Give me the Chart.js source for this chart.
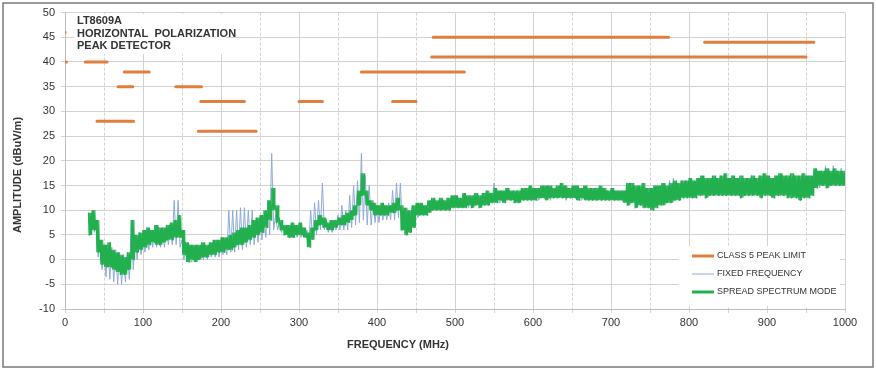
<!DOCTYPE html>
<html>
<head>
<meta charset="utf-8">
<script src="https://cdn.jsdelivr.net/npm/chart.js@4.4.0/dist/chart.umd.min.js"></script>
<style>
    body { margin: 0; background: #fff; }
</style>
</head>
<body>
<canvas id="emiChart" width="876" height="370"></canvas>
<script>
// CLASS 5 peak limit segments (MHz start, MHz end, dBuV/m)
const limitStart = [0.15, 0.53, 26, 41, 68, 76, 142, 171, 174, 300, 380, 420, 470, 472, 820];
const limitEnd   = [0.3, 1.8, 54, 88, 87, 108, 175, 245, 230, 330, 512, 450, 950, 774, 960];
const limitLevel = [46, 40, 40, 28, 35, 38, 35, 26, 32, 32, 38, 32, 41, 45, 44];

// measured traces, one hi/lo pair per 5 MHz bin starting at 30 MHz
const greenHi = [
    9.5, 10, 8, 4, 3, 3.5, 2, 1.5, 1, 0.5,            // 30-75
    1.5, 8, 5, 5.5, 6, 6.5, 6, 7, 6.5, 6.5,           // 80-125
    7, 7.5, 8, 9, 6, 3.5, 3, 3, 3, 3.5,               // 130-175
    3, 3.5, 4, 4, 4.5, 4.5, 5, 5.5, 6, 6.5,           // 180-225
    6.5, 7, 8, 8.5, 9, 10, 12, 14.5, 11, 8,           // 230-275
    7, 7, 7.5, 7, 7.5, 6.5, 5.5, 6.5, 8, 9,           // 280-325
    8.5, 7.5, 8, 8, 8.5, 9, 9.5, 10, 11, 14,          // 330-375
    17.5, 14, 12, 11.5, 11, 11.5, 11, 11, 11.5, 12.5, // 380-425
    11, 10.5, 10, 11, 11.5, 11.5, 11, 12, 12.5, 12,   // 430-475
    12.5, 12, 12.5, 13, 13, 12.5, 13.5, 13, 13, 13.5, // 480-525
    13, 13.5, 14, 13.5, 14.5, 14, 14, 14.5, 14, 14,   // 530-575
    14, 14.5, 14.5, 15, 14.5, 14.5, 15, 15, 15, 14.5, // 580-625
    15, 15.5, 15, 14.5, 15, 15, 14.5, 15, 14.5, 14.5, // 630-675
    14.5, 15, 14.5, 14, 14.5, 14, 14, 14, 15.5, 15.5, // 680-725
    15, 15, 15.5, 14.5, 14.5, 15, 15, 15.5, 15, 15.5, // 730-775
    16, 15.5, 16, 16, 16.5, 16, 16.5, 17, 16.5, 16.5, // 780-825
    17, 16.5, 17, 17.5, 16.5, 17, 16.5, 17, 16.5, 16.5, // 830-875
    17, 16.5, 17, 17.5, 17, 16.5, 17, 17.5, 17, 17,   // 880-925
    17.5, 17, 17, 17.5, 17, 17, 18.5, 18, 18, 18.5,   // 930-975
    18, 18.5, 18, 18, 18                              // 980-1000
];
const greenLo = [
    5, 6, 1.5, -1, -1.5, -1.5, -2, -2.5, -3, -3,
    -2, 0, 1.5, 2, 2.5, 3, 3.5, 3, 3, 3.5,
    4, 4, 4.5, 4.5, 1, -0.5, 0, -0.5, 0, 0.5,
    0.5, 1, 1, 1.5, 1.5, 2, 2, 2.5, 3, 3,
    3.5, 4, 4.5, 5, 5.5, 6.5, 8, 10, 7.5, 6,
    5, 4.5, 4.5, 5, 5, 4.5, 2.5, 4, 6, 7,
    6.5, 6, 6, 6.5, 7, 7, 7.5, 8, 9, 11,
    13, 11, 10, 9, 9, 9, 9, 9.5, 9.5, 10,
    6, 5, 5.5, 6.5, 9, 9, 9, 9.5, 10, 10,
    10, 10, 10, 10.5, 10.5, 10.5, 10.5, 11, 10.5, 11,
    10.5, 11, 11, 11.5, 11.5, 12, 11.5, 12, 12, 11.5,
    11.5, 12, 12, 12, 12, 12.5, 12.5, 12, 12.5, 12.5,
    12.5, 12.5, 12.5, 12.5, 12.5, 12, 12.5, 12, 12, 12,
    12, 12, 12, 12, 12, 12, 12, 11.5, 11, 11.5,
    10.5, 11, 10.5, 10.5, 10, 10.5, 11, 11, 11.5, 11.5,
    12, 12, 12.5, 12.5, 12.5, 12.5, 13, 13, 12.5, 13,
    13, 13, 13, 13, 13, 13, 13, 12.5, 13, 13,
    13, 13, 12.5, 13, 13, 12.5, 13, 13, 13, 12.5,
    12.5, 12.5, 12, 12.5, 12.5, 13, 14.5, 15, 15, 14.5,
    15, 15, 15, 15, 14.5
];
const blueHi = [
    9.5, 10, 7, 4, 3, 3, 2.5, 2, 1.5, 1,
    1.5, 8, 5, 5.5, 6, 6.5, 6, 7, 6.5, 6.5,
    6.5, 7, 12, 12, 4, 3, 3, 2.5, 3, 3,
    3, 3, 3.5, 4, 4, 4, 10, 10, 10, 10.5,
    10.5, 10, 10, 7.5, 8, 9, 12, 21.5, 9, 7.5,
    6.5, 6.5, 7, 7, 7, 6.5, 6, 10, 11.5, 12,
    15.5, 8, 7.5, 8, 9, 11, 10, 13, 15, 16,
    21.5, 17, 15, 12, 11, 11, 11, 11.5, 14, 15.5,
    15.5, 10.5, 10, 10.5, 11, 11, 11, 11.5, 12, 12,
    12, 12, 12.5, 12.5, 13, 12.5, 13, 13, 12.5, 13,
    13, 13, 13.5, 13.5, 15.5, 14, 14, 14, 14, 14,
    14, 14, 14.5, 14.5, 14.5, 14.5, 15, 14.5, 15, 14.5,
    15, 15, 15, 14.5, 14.5, 15, 14.5, 14.5, 14.5, 14.5,
    14.5, 14.5, 14.5, 14, 14, 14, 14, 14, 15, 15,
    15, 15, 15, 14.5, 14.5, 15, 15, 15, 15, 16,
    16.5, 15.5, 16, 16, 16, 16, 16.5, 16.5, 16.5, 16.5,
    16.5, 16.5, 17, 17, 16.5, 17, 16.5, 16.5, 16.5, 16.5,
    17, 16.5, 17, 17, 17, 16.5, 17, 17, 17, 17,
    17, 17, 17, 17, 17, 17, 18, 18, 18, 19,
    18, 19, 18, 18.5, 18
];
const blueLo = [
    5, 5.5, 0.5, -2, -3.5, -4, -4.5, -5, -5, -4.5,
    -4, -2, 0, 1, 1.5, 2, 2.5, 2.5, 2.5, 2.5,
    3, 3, 3, 2.5, 0, -0.5, -0.5, -0.5, 0, 0,
    0, 0.5, 0.5, 0.5, 1, 1, 1.5, 1.5, 2, 2,
    2.5, 3, 3, 3.5, 4, 4.5, 5, 6, 6, 5.5,
    5, 4.5, 4.5, 4.5, 4.5, 4.5, 3, 4, 5, 6,
    6, 5.5, 5.5, 6, 6, 6, 6, 6.5, 7, 7.5,
    8, 7, 7, 7.5, 7.5, 8, 8, 8, 8, 8.5,
    6, 5.5, 5.5, 6.5, 8.5, 9, 9, 9.5, 10, 10,
    10, 10, 10, 10.5, 10.5, 10.5, 10.5, 10.5, 10.5, 11,
    10.5, 11, 11, 11.5, 11.5, 11.5, 11.5, 12, 12, 11.5,
    11.5, 12, 12, 12, 12, 12, 12.5, 12, 12, 12.5,
    12.5, 12.5, 12, 12.5, 12.5, 12, 12, 12, 12, 12,
    12, 12, 12, 12, 12, 12, 12, 11.5, 11, 11.5,
    10.5, 11, 10.5, 10.5, 10.5, 10.5, 11, 11, 11.5, 11.5,
    12, 12, 12.5, 12.5, 12.5, 12.5, 13, 13, 12.5, 13,
    13, 13, 13, 13, 13, 13, 13, 12.5, 13, 13,
    13, 13, 12.5, 13, 13, 12.5, 13, 13, 13, 12.5,
    12.5, 12.5, 12, 12.5, 12.5, 13, 14.5, 14.5, 15, 14.5,
    15, 15, 15, 15, 14.5
];

const titleLines = ["LT8609A", "HORIZONTAL  POLARIZATION", "PEAK DETECTOR"];
const legendNames = ["CLASS 5 PEAK LIMIT", "FIXED FREQUENCY", "SPREAD SPECTRUM MODE"];

const FONT = "'Liberation Sans', Arial, sans-serif";
const ORANGE = "#E07E3C";
const BLUE = "#8EAADB";
const GREEN = "#22B04F";

// frequency bins for the traces
const freqs = [];
for (let f = 30; f <= 1000; f += 5) freqs.push(f);

// a sweep swings between the bin's peak and floor; "swings" = how many
// times it goes up and down inside one 5 MHz bin
function buildTrace(hi, lo, swings) {
    const pts = [];
    const step = 5 / (swings * 2);
    freqs.forEach((f, i) => {
        for (let k = 0; k < swings; k++) {
            pts.push({ x: f + step * 2 * k, y: hi[i] });
            pts.push({ x: f + step * (2 * k + 1), y: lo[i] });
        }
    });
    return pts;
}

function buildLimit() {
    const pts = [];
    limitLevel.forEach((lvl, i) => {
        pts.push({ x: limitStart[i], y: lvl });
        pts.push({ x: limitEnd[i], y: lvl });
        pts.push({ x: limitEnd[i], y: null }); // break between segments
    });
    return pts;
}

// white boxes, title text, custom legend, frame
const decorPlugin = {
    id: "decor",
    afterDraw(chart) {
        const ctx = chart.ctx;
        ctx.save();

        // outer frame
        ctx.strokeStyle = "#7a7a7a";
        ctx.lineWidth = 1.5;
        ctx.strokeRect(3, 3, 870, 364);

        // annotation text
        ctx.fillStyle = "#fff";
        ctx.fillRect(74, 14, 152, 40);
        ctx.fillStyle = "#333";
        ctx.font = "bold 11px " + FONT;
        ctx.textBaseline = "middle";
        ctx.textAlign = "left";
        titleLines.forEach((t, i) => ctx.fillText(t, 77, 21 + i * 12.5));

        // legend
        ctx.fillStyle = "#fff";
        ctx.fillRect(679, 246, 161, 60);
        const colors = [ORANGE, BLUE, GREEN];
        const widths = [3, 1, 3];
        ctx.font = "9px " + FONT;
        legendNames.forEach((name, i) => {
            const y = 256 + i * 18;
            ctx.strokeStyle = colors[i];
            ctx.lineWidth = widths[i];
            ctx.beginPath();
            ctx.moveTo(692, y);
            ctx.lineTo(714, y);
            ctx.stroke();
            ctx.fillStyle = "#333";
            ctx.fillText(name, 717, y);
        });

        // axis titles
        ctx.font = "bold 11px " + FONT;
        ctx.textAlign = "center";
        ctx.fillText("FREQUENCY (MHz)", 398, 345);
        ctx.translate(18, 175);
        ctx.rotate(-Math.PI / 2);
        ctx.fillText("AMPLITUDE (dBuV/m)", 0, 0);

        ctx.restore();
    }
};

const ctx = document.getElementById("emiChart").getContext("2d");
new Chart(ctx, {
    type: "line",
    data: {
        datasets: [
            {
                label: legendNames[0],
                data: buildLimit(),
                borderColor: ORANGE,
                borderWidth: 3,
                borderCapStyle: "round",
                spanGaps: false
            },
            {
                label: legendNames[2],
                data: buildTrace(greenHi, greenLo, 3),
                borderColor: GREEN,
                borderWidth: 1.1
            },
            {
                label: legendNames[1],
                data: buildTrace(blueHi, blueLo, 1),
                borderColor: BLUE,
                borderWidth: 1
            }
        ]
    },
    options: {
        responsive: false,
        animation: false,
        events: [],
        parsing: false,
        elements: {
            point: { radius: 0 },
            line: { tension: 0 }
        },
        layout: { padding: { top: 12, right: 31, bottom: 0, left: 0 } },
        plugins: {
            legend: { display: false },
            tooltip: { enabled: false }
        },
        scales: {
            x: {
                type: "linear",
                min: 0,
                max: 1000,
                ticks: {
                    stepSize: 50,
                    autoSkip: false,
                    maxRotation: 0,
                    padding: 3,
                    color: "#333",
                    font: { family: FONT, size: 11 },
                    callback: v => (v % 100 === 0 ? v : "")
                },
                grid: { color: "#d2d2d2", tickLength: 4 },
                border: {
                    color: "#bdbdbd",
                    dash: c => (c.tick && c.tick.value % 100 !== 0 ? [3, 2] : [])
                },
                afterFit: s => { s.height = 61; }
            },
            y: {
                min: -10,
                max: 50,
                ticks: {
                    stepSize: 5,
                    padding: 6,
                    color: "#333",
                    font: { family: FONT, size: 11 }
                },
                grid: { color: "#d2d2d2", tickLength: 4 },
                border: { color: "#bdbdbd" },
                afterFit: s => { s.width = 65; }
            }
        }
    },
    plugins: [decorPlugin]
});
</script>
</body>
</html>
